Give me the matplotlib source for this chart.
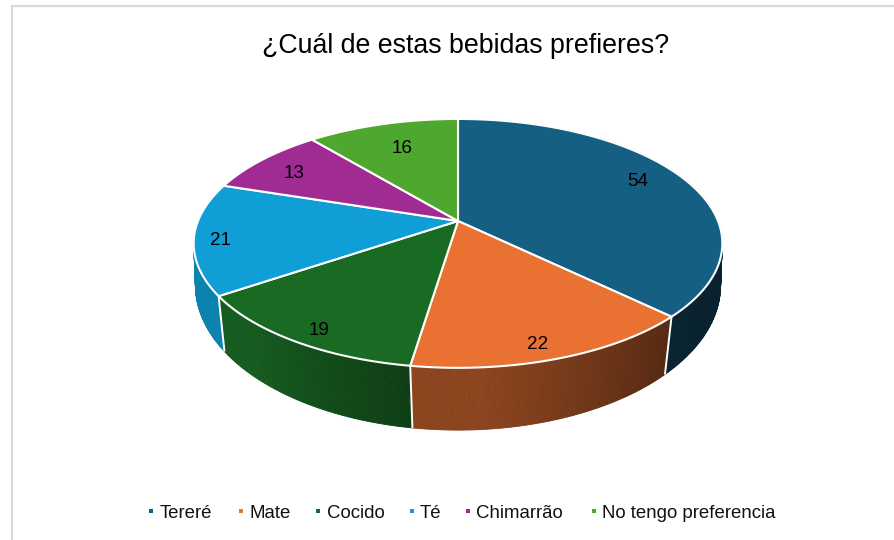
import numpy as np
import matplotlib
matplotlib.use("Agg")
import matplotlib.pyplot as plt
from matplotlib.patches import Polygon

plt.rcParams['font.family'] = ['Liberation Sans', 'DejaVu Sans']

# --- data
title = "¿Cuál de estas bebidas prefieres?"
categories = ["Tereré", "Mate", "Cocido", "Té", "Chimarrão", "No tengo preferencia"]
values = [54, 22, 19, 21, 13, 16]

# --- styles
colors = ["#156082", "#E97132", "#196B24", "#0F9ED5", "#A02B93", "#4EA72E"]
shade_start = [0.36, 0.60, 0.85, 0.82, 0.5, 0.5]
shade_end = [0.36, 0.36, 0.58, 0.82, 0.5, 0.5]
label_r = [0.82, 0.895, 0.90, 0.90, 0.81, 0.74]
label_dtheta = [-3.2, 1.7, -1.5, -1.2, -1.3, 0.8]
legend_marker_x = [151, 241.5, 318, 412, 468, 594]
legend_text_x = [160, 250, 327, 420, 476, 602]

W, H = 895, 540
fig = plt.figure(figsize=(W / 100, H / 100), dpi=100)
ax = fig.add_axes([0, 0, 1, 1])
ax.set_xlim(0, W)
ax.set_ylim(H, 0)
ax.axis("off")

CX = 458
TOP = dict(A=260.0, B=120.4, a=0.18, y0=221.0)
BOT = dict(A=260.0, B=142.0, a=0.14, y0=265.0)


def project(theta_deg, r, p):
    t = np.radians(theta_deg)
    u, v = r * np.sin(t), r * np.cos(t)
    w = 1 + p["a"] * v
    return CX + p["A"] * u / w, p["y0"] - p["B"] * v / w


bounds = np.concatenate([[0], np.cumsum(values)]) / sum(values) * 360.0


def hex_scaled(c, f):
    rgb = np.array(matplotlib.colors.to_rgb(c))
    return tuple(rgb * f)


# outer walls, drawn first so that the top surface hides their back part
for i, col in enumerate(colors):
    th = np.linspace(bounds[i], bounds[i + 1], max(int(bounds[i + 1] - bounds[i]) * 2, 4))
    for k in range(len(th) - 1):
        a0, a1 = th[k], th[k + 1]
        x0, y0 = project(a0, 1, TOP)
        x1, y1 = project(a1, 1, TOP)
        x2, y2 = project(a1, 1, BOT)
        x3, y3 = project(a0, 1, BOT)
        # clockwise angle increases towards the left on the front of the pie
        frac = 1 - min(1.0, k / (0.75 * (len(th) - 1)))
        f = shade_start[i] * (1 - frac) + shade_end[i] * frac
        fc = hex_scaled(col, f)
        ax.add_patch(Polygon([(x0, y0), (x1, y1), (x2, y2), (x3, y3)],
                             closed=True, facecolor=fc, edgecolor=fc, linewidth=0.6, zorder=2))

# white seams on the visible wall
for b in bounds:
    if 100 < b < 260:
        xa, ya = project(b, 1, TOP)
        xb, yb = project(b, 1, BOT)
        ax.plot([xa, xb], [ya, yb], color="white", lw=1.4, zorder=3, solid_capstyle="butt")

# top surface wedges
for i, col in enumerate(colors):
    th = np.linspace(bounds[i], bounds[i + 1], 200)
    pts = [(CX, TOP["y0"])] + [project(t, 1, TOP) for t in th]
    ax.add_patch(Polygon(pts, closed=True, facecolor=col, edgecolor="white",
                         linewidth=1.5, joinstyle="round", zorder=4))

# data labels
for i, v in enumerate(values):
    mid = (bounds[i] + bounds[i + 1]) / 2 + label_dtheta[i]
    x, y = project(mid, label_r[i], TOP)
    ax.text(x, y + 1.8, str(v), ha="center", va="center", fontsize=13.6, color="black", zorder=5)

# title
ax.text(465.5, 53, title, ha="center", va="baseline", fontsize=19.3, color="black")

# legend
for mx, tx, name, col in zip(legend_marker_x, legend_text_x, categories, colors):
    ax.scatter([mx], [511], marker="s", s=11, color=col, linewidths=0, zorder=5)
    ax.text(tx, 517.5, name, ha="left", va="baseline", fontsize=13.4, color="#111111")

# chart frame (left and top sides)
ax.plot([12, 12, W], [H, 6, 6], color="#D9D9D9", lw=1.6, solid_joinstyle="miter", zorder=1)

fig.savefig("out.png", dpi=100)
